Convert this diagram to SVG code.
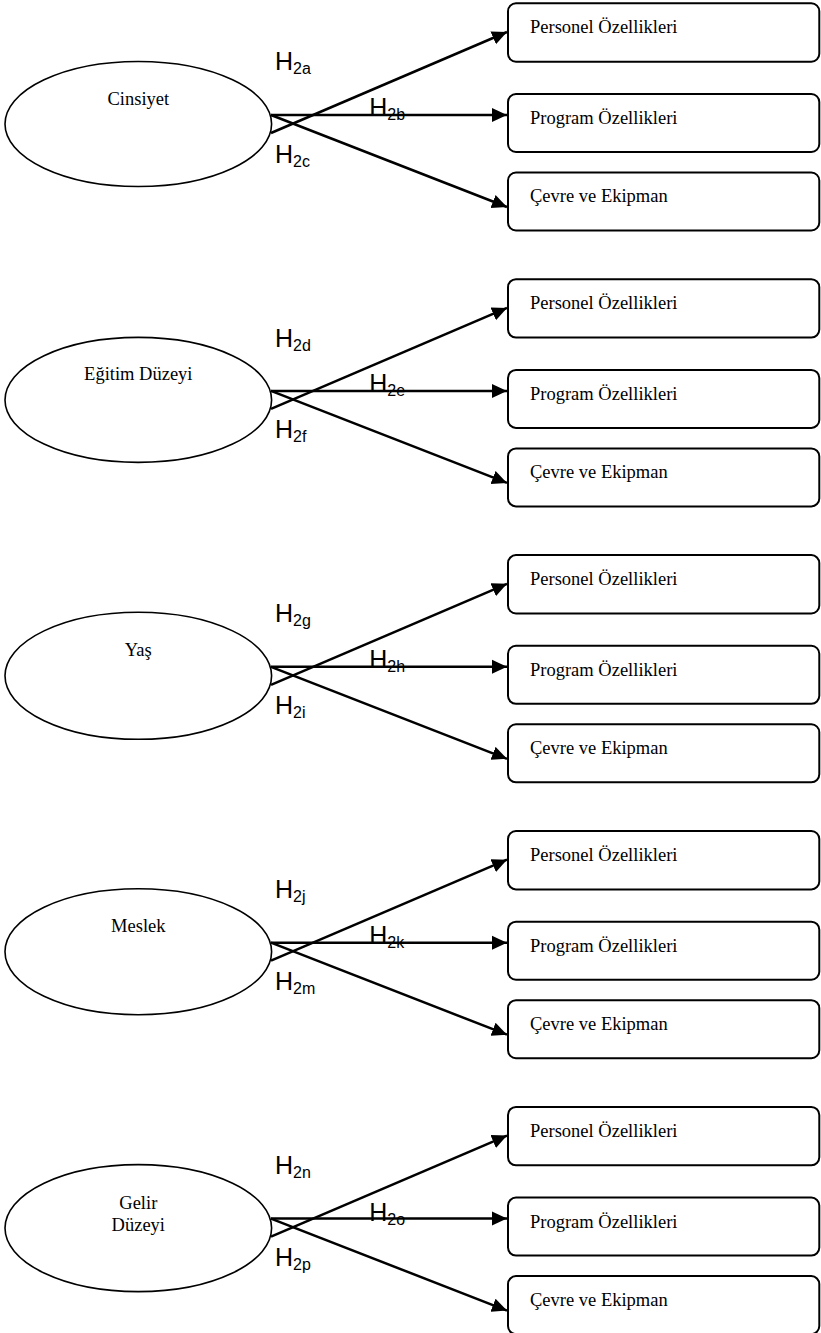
<svg xmlns="http://www.w3.org/2000/svg" width="821" height="1333" viewBox="0 0 821 1333">
<style>
.bg{fill:#fff}
.ell{fill:#fff;stroke:#000;stroke-width:1.6}
.box{fill:#fff;stroke:#000;stroke-width:2}
.lbl{font-family:"Liberation Serif","Times New Roman",serif;font-size:18.5px;fill:#000}
.h{font-family:"Liberation Sans",Arial,sans-serif;font-size:25px;fill:#000}
.sub{font-size:16px}
.con line{stroke:#000;stroke-width:2.5;fill:none;marker-end:url(#arr)}
</style>
<defs>
<marker id="arr" markerUnits="userSpaceOnUse" markerWidth="16" markerHeight="15" refX="15" refY="7" orient="auto" viewBox="0 0 16 14">
<path d="M0,0 L15,7 L0,14 Z" fill="#000"/>
</marker>
<g id="tplBoxes">
<rect class="box" x="508" y="3.3" width="311.3" height="58.4" rx="8"/>
<text class="lbl" x="530" y="33.3">Personel Özellikleri</text>
<rect class="box" x="508" y="94" width="311.3" height="58" rx="8"/>
<text class="lbl" x="530" y="124">Program Özellikleri</text>
<rect class="box" x="508" y="172.5" width="311.3" height="58" rx="8"/>
<text class="lbl" x="530" y="202.3">Çevre ve Ekipman</text>
</g>
<g id="tplCon" class="con">
<line x1="271" y1="115" x2="507" y2="115"/>
<line x1="271" y1="133" x2="507" y2="32"/>
<line x1="271" y1="115" x2="507" y2="207"/>
</g>
</defs>
<rect class="bg" x="0" y="0" width="821" height="1333"/>

<!-- Block 1 -->
<g id="block-cinsiyet" transform="translate(0,0)">
<g id="node-cinsiyet"><ellipse class="ell" cx="138.3" cy="124" rx="133.3" ry="62.5"/><text class="lbl" x="138.3" y="104.5" text-anchor="middle">Cinsiyet</text></g>
<g id="connectors-1"><use href="#tplCon"/></g>
<g id="labels-1">
<text class="h" x="275" y="70">H<tspan class="sub" dy="4">2a</tspan></text>
<text class="h" x="369.3" y="115.5">H<tspan class="sub" dy="4">2b</tspan></text>
<text class="h" x="275" y="162.5">H<tspan class="sub" dy="4">2c</tspan></text>
</g>
<g id="targets-1"><use href="#tplBoxes"/></g>
</g>

<!-- Block 2 -->
<g id="block-egitim" transform="translate(0,275.9)">
<g id="node-egitim"><ellipse class="ell" cx="138.3" cy="124" rx="133.3" ry="62.5"/><text class="lbl" x="138.3" y="104.5" text-anchor="middle">Eğitim Düzeyi</text></g>
<g id="connectors-2"><use href="#tplCon"/></g>
<g id="labels-2">
<text class="h" x="275" y="71">H<tspan class="sub" dy="4">2d</tspan></text>
<text class="h" x="369.3" y="116">H<tspan class="sub" dy="4">2e</tspan></text>
<text class="h" x="275" y="162">H<tspan class="sub" dy="4">2f</tspan></text>
</g>
<g id="targets-2"><use href="#tplBoxes"/></g>
</g>

<!-- Block 3 -->
<g id="block-yas" transform="translate(0,551.8)">
<g id="node-yas"><ellipse class="ell" cx="138.3" cy="124" rx="133.3" ry="63.5"/><text class="lbl" x="138.3" y="104" text-anchor="middle">Yaş</text></g>
<g id="connectors-3"><use href="#tplCon"/></g>
<g id="labels-3">
<text class="h" x="275" y="70.5">H<tspan class="sub" dy="4">2g</tspan></text>
<text class="h" x="369.3" y="116">H<tspan class="sub" dy="4">2h</tspan></text>
<text class="h" x="275" y="162.5">H<tspan class="sub" dy="4">2i</tspan></text>
</g>
<g id="targets-3"><use href="#tplBoxes"/></g>
</g>

<!-- Block 4 -->
<g id="block-meslek" transform="translate(0,827.7)">
<g id="node-meslek"><ellipse class="ell" cx="138.3" cy="124" rx="133.3" ry="63"/><text class="lbl" x="138.3" y="104.5" text-anchor="middle">Meslek</text></g>
<g id="connectors-4"><use href="#tplCon"/></g>
<g id="labels-4">
<text class="h" x="275" y="70.5">H<tspan class="sub" dy="4">2j</tspan></text>
<text class="h" x="369.3" y="116">H<tspan class="sub" dy="4">2k</tspan></text>
<text class="h" x="275" y="162.5">H<tspan class="sub" dy="4">2m</tspan></text>
</g>
<g id="targets-4"><use href="#tplBoxes"/></g>
</g>

<!-- Block 5 -->
<g id="block-gelir" transform="translate(0,1103.6)">
<g id="node-gelir"><ellipse class="ell" cx="138.3" cy="124.5" rx="133.3" ry="63.5"/><text class="lbl" x="138.3" y="105" text-anchor="middle">Gelir</text><text class="lbl" x="138.3" y="127" text-anchor="middle">Düzeyi</text></g>
<g id="connectors-5"><use href="#tplCon"/></g>
<g id="labels-5">
<text class="h" x="275" y="70.5">H<tspan class="sub" dy="4">2n</tspan></text>
<text class="h" x="369.3" y="117">H<tspan class="sub" dy="4">2o</tspan></text>
<text class="h" x="275" y="162">H<tspan class="sub" dy="4">2p</tspan></text>
</g>
<g id="targets-5"><use href="#tplBoxes"/></g>
</g>
</svg>
